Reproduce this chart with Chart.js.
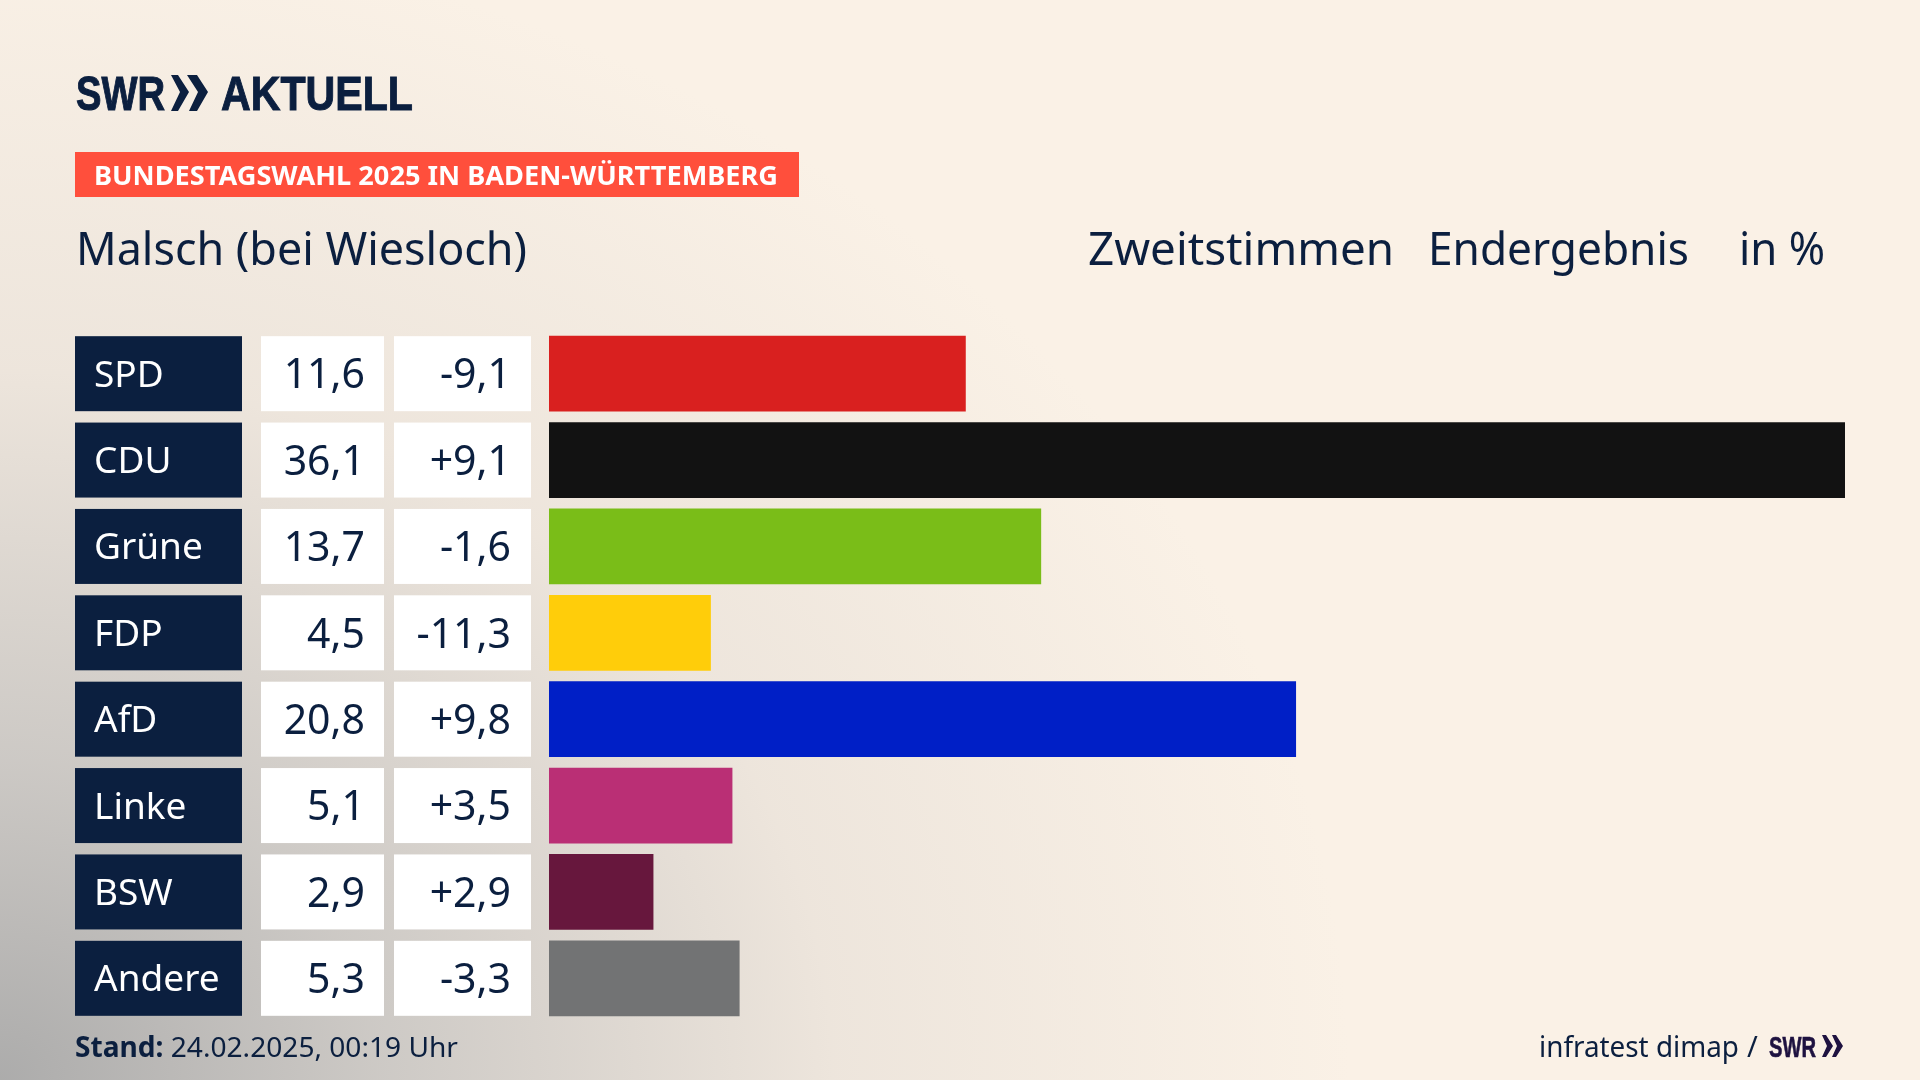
<!DOCTYPE html>
<html lang="de">
<head>
<meta charset="utf-8">
<title>Bundestagswahl 2025 Malsch (bei Wiesloch)</title>
<script src="https://cdn.jsdelivr.net/npm/chart.js@4"></script>
<style>
  html, body { margin: 0; padding: 0; }
  body {
    width: 1920px; height: 1080px; overflow: hidden; position: relative;
    background:
      radial-gradient(ellipse 1350px 1150px at 0 1080px, rgba(168,168,168,.95) 0, rgba(192,190,188,.78) 28%, rgba(222,215,208,.45) 62%, rgba(250,241,230,0) 100%),
      #FAF1E6;
    font-family: "Noto Sans", sans-serif; color: #0B1F3F;
  }
  canvas { position: absolute; left: 0; top: 0; }
  #tag { position: absolute; left: 75px; top: 152px; width: 724px; height: 45px; background: #FF4F3C; }
  svg { position: absolute; left: 0; top: 0; }
</style>
</head>
<body>
<canvas id="chart" width="1920" height="1080"></canvas>
<div id="tag"></div>
<svg width="1920" height="1080" xmlns="http://www.w3.org/2000/svg">
  <g font-family="Noto Sans" fill="#0B1F3F">
    <text x="76" y="110" font-family="Liberation Sans" font-weight="700" font-size="48" stroke="#0B1F3F" stroke-width="1" textLength="89" lengthAdjust="spacingAndGlyphs">SWR</text>
    <polygon points="171,75 178,75 189,92 178,111 171,111 180,92"/>
    <polygon points="187,75 197,75 208,92 197,111 189,111 198,92"/>
    <text x="221" y="110" font-family="Liberation Sans" font-weight="700" font-size="48" stroke="#0B1F3F" stroke-width="1" textLength="192" lengthAdjust="spacingAndGlyphs">AKTUELL</text>
    <text x="94" y="185" font-weight="700" font-size="27" fill="#FFFFFF" textLength="684" lengthAdjust="spacingAndGlyphs">BUNDESTAGSWAHL 2025 IN BADEN-WÜRTTEMBERG</text>
    <text x="76" y="265" font-size="45" textLength="451" lengthAdjust="spacingAndGlyphs">Malsch (bei Wiesloch)</text>
    <text x="1088" y="265" font-size="45" textLength="306" lengthAdjust="spacingAndGlyphs">Zweitstimmen</text>
    <text x="1428" y="265" font-size="45" textLength="261" lengthAdjust="spacingAndGlyphs">Endergebnis</text>
    <text x="1739" y="265" font-size="45" textLength="86" lengthAdjust="spacingAndGlyphs">in %</text>
    <text x="75" y="1057" font-size="28" textLength="383" lengthAdjust="spacingAndGlyphs"><tspan font-weight="700">Stand:</tspan> 24.02.2025, 00:19 Uhr</text>
    <text x="1539" y="1057" font-size="29" textLength="200" lengthAdjust="spacingAndGlyphs">infratest dimap</text>
    <text x="1747" y="1057" font-size="29">/</text>
    <text x="1769" y="1057" font-family="Liberation Sans" font-weight="700" font-size="29" fill="#1E1240" stroke="#1E1240" stroke-width=".6" textLength="47" lengthAdjust="spacingAndGlyphs">SWR</text>
    <polygon fill="#1E1240" points="1822,1035 1826,1035 1833,1046 1826,1057 1822,1057 1827,1046"/>
    <polygon fill="#1E1240" points="1832,1035 1836,1035 1843,1046 1836,1057 1832,1057 1837,1046"/>
  </g>
</svg>
<script>
const parties = ["SPD", "CDU", "Grüne", "FDP", "AfD", "Linke", "BSW", "Andere"];
const results = [11.6, 36.1, 13.7, 4.5, 20.8, 5.1, 2.9, 5.3];
const changes = [-9.1, 9.1, -1.6, -11.3, 9.8, 3.5, 2.9, -3.3];
const barColors = ["#D9201F", "#121212", "#7ABD18", "#FFCD0A", "#001FC6", "#BA2F75", "#67173D", "#727374"];

const NAVY = "#0B1F3F";
const BAR_H = 75;
const CELL_FONT = "41px 'Noto Sans'";

const fmtVal = v => v.toFixed(1).replace(".", ",");
const fmtDiff = v => (v > 0 ? "+" : "") + fmtVal(v);

// party boxes and the two white number columns, lined up on the category scale
const tablePlugin = {
  id: "table",
  beforeDraw(chart) {
    const { ctx, scales: { y } } = chart;
    ctx.save();
    parties.forEach((p, i) => {
      const top = y.getPixelForValue(i) - BAR_H / 2;
      ctx.fillStyle = NAVY;
      ctx.fillRect(75, top, 167, BAR_H);
      ctx.fillStyle = "#FFFFFF";
      ctx.fillRect(261, top, 123, BAR_H);
      ctx.fillRect(394, top, 137, BAR_H);
    });
    ctx.restore();
  },
  afterDraw(chart) {
    const { ctx, scales: { y } } = chart;
    ctx.save();
    ctx.font = CELL_FONT;
    ctx.fillStyle = NAVY;
    ctx.textAlign = "right";
    ctx.textBaseline = "middle";
    parties.forEach((p, i) => {
      const cy = y.getPixelForValue(i) + 3;
      ctx.fillText(fmtVal(results[i]), 365, cy);
      ctx.fillText(fmtDiff(changes[i]), 511, cy);
    });
    ctx.restore();
  }
};

new Chart(document.getElementById("chart"), {
  type: "bar",
  plugins: [tablePlugin],
  data: {
    labels: parties,
    datasets: [{ data: results, backgroundColor: barColors, barThickness: BAR_H, borderWidth: 0 }]
  },
  options: {
    indexAxis: "y",
    responsive: false,
    animation: false,
    devicePixelRatio: 1,
    layout: { padding: { left: 94, right: 75, top: 330.5, bottom: 58.5 } },
    plugins: { legend: { display: false }, tooltip: { enabled: false } },
    scales: {
      x: { display: false, min: 0, max: 36.1 },
      y: {
        afterFit: s => { s.width = 455; },
        grid: { display: false },
        border: { display: false },
        ticks: { color: "#FFFFFF", crossAlign: "far", padding: 0, labelOffset: 2.5, font: { family: "Noto Sans", size: 37 } }
      }
    }
  }
});
</script>
</body>
</html>
